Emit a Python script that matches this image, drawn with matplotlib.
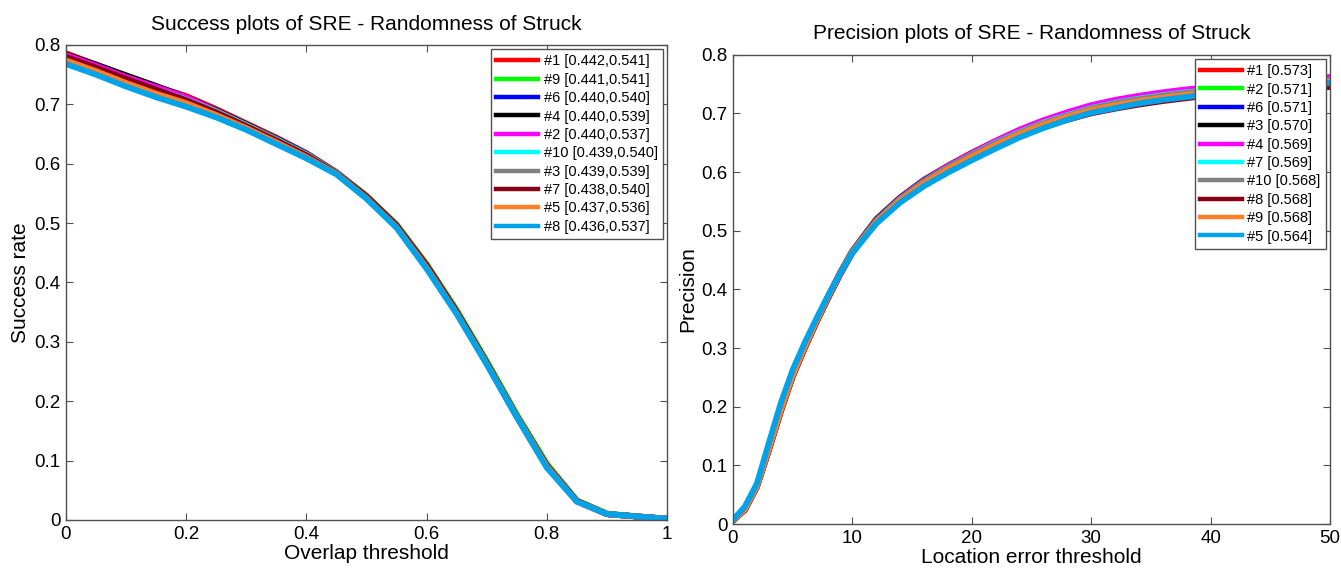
import numpy as np
import matplotlib
matplotlib.use('Agg')
import matplotlib.pyplot as plt

plt.rcParams['font.family'] = ['Liberation Sans', 'DejaVu Sans']

# success plot: overlap thresholds 0:0.05:1
overlap = [0.00, 0.05, 0.10, 0.15, 0.20, 0.25, 0.30, 0.35, 0.40, 0.45, 0.50,
           0.55, 0.60, 0.65, 0.70, 0.75, 0.80, 0.85, 0.90, 0.95, 1.00]
succ_labels = ['#1 [0.442,0.541]', '#9 [0.441,0.541]', '#6 [0.440,0.540]',
               '#4 [0.440,0.539]', '#2 [0.440,0.537]', '#10 [0.439,0.540]',
               '#3 [0.439,0.539]', '#7 [0.438,0.540]', '#5 [0.437,0.536]',
               '#8 [0.436,0.537]']
succ_1 = [.786, .767, .748, .730, .714, .692, .668, .644, .618, .586, .546, .497, .430, .352, .266, .176, .093, .032, .010, .006, .002]
succ_9 = [.782, .764, .745, .728, .711, .690, .666, .642, .616, .585, .546, .498, .431, .354, .268, .178, .095, .033, .011, .006, .002]
succ_6 = [.781, .764, .745, .727, .710, .689, .666, .642, .617, .585, .545, .496, .429, .351, .265, .175, .092, .032, .010, .006, .002]
succ_4 = [.784, .767, .749, .731, .712, .690, .666, .642, .616, .585, .545, .496, .429, .351, .265, .175, .092, .032, .010, .006, .002]
succ_2 = [.783, .765, .746, .729, .712, .689, .665, .641, .615, .584, .544, .495, .428, .350, .264, .174, .091, .031, .010, .006, .002]
succ_10 = [.779, .761, .742, .725, .708, .688, .665, .641, .616, .585, .545, .496, .429, .351, .265, .175, .092, .032, .010, .006, .002]
succ_3 = [.778, .760, .741, .724, .707, .687, .664, .640, .615, .584, .545, .496, .429, .351, .265, .175, .092, .032, .010, .006, .002]
succ_7 = [.780, .762, .743, .725, .707, .686, .663, .639, .614, .584, .545, .496, .429, .351, .265, .175, .092, .032, .010, .006, .002]
succ_5 = [.774, .756, .736, .718, .702, .682, .660, .636, .611, .583, .542, .493, .425, .348, .263, .174, .090, .031, .010, .006, .002]
succ_8 = [.768, .750, .730, .712, .696, .678, .657, .633, .609, .582, .541, .492, .423, .347, .262, .173, .088, .031, .010, .006, .002]
succ_series = [succ_1, succ_9, succ_6, succ_4, succ_2, succ_10, succ_3, succ_7, succ_5, succ_8]

# precision plot: location error thresholds
loc_err = [0, 1, 2, 3, 4, 5, 6, 7, 8, 9, 10, 12, 14, 16, 18, 20, 22, 24, 26, 28,
           30, 32, 34, 36, 38, 40, 42, 44, 46, 48, 50]
prec_labels = ['#1 [0.573]', '#2 [0.571]', '#6 [0.571]', '#3 [0.570]',
               '#4 [0.569]', '#7 [0.569]', '#10 [0.568]', '#8 [0.568]',
               '#9 [0.568]', '#5 [0.564]']
prec_1 = [.006, .025, .065, .128, .195, .255, .303, .348, .390, .430, .466, .520, .557, .587, .611, .633, .653, .672, .688, .701, .713, .722, .729, .734, .738, .742, .746, .750, .753, .756, .758]
prec_2 = [.006, .025, .064, .127, .194, .254, .302, .347, .389, .429, .465, .519, .556, .586, .610, .632, .652, .670, .686, .699, .711, .720, .727, .732, .737, .741, .745, .749, .752, .755, .757]
prec_6 = [.006, .025, .064, .127, .194, .254, .302, .347, .389, .429, .465, .519, .556, .586, .610, .632, .652, .670, .686, .699, .711, .720, .727, .733, .737, .741, .745, .749, .752, .755, .757]
prec_3 = [.006, .025, .064, .127, .193, .253, .301, .346, .388, .428, .464, .518, .555, .585, .609, .631, .651, .669, .685, .698, .710, .719, .726, .731, .736, .740, .744, .748, .751, .754, .756]
prec_4 = [.006, .024, .063, .126, .192, .252, .300, .345, .387, .427, .463, .517, .555, .585, .610, .632, .653, .672, .688, .702, .714, .723, .730, .736, .741, .745, .749, .753, .757, .760, .762]
prec_7 = [.006, .025, .064, .127, .193, .253, .301, .346, .388, .428, .464, .517, .554, .584, .608, .630, .650, .668, .684, .697, .709, .718, .725, .731, .736, .740, .744, .748, .751, .754, .756]
prec_10 = [.006, .025, .064, .127, .193, .253, .301, .346, .388, .428, .464, .517, .554, .584, .608, .630, .649, .667, .683, .696, .708, .717, .724, .730, .735, .739, .743, .747, .750, .753, .755]
prec_8 = [.006, .024, .063, .125, .191, .251, .299, .344, .386, .426, .462, .515, .551, .580, .603, .624, .643, .661, .676, .689, .700, .708, .715, .721, .726, .731, .735, .738, .741, .743, .745]
prec_9 = [.006, .025, .064, .127, .193, .253, .301, .346, .388, .428, .463, .515, .552, .581, .605, .626, .646, .665, .681, .694, .706, .714, .721, .727, .732, .736, .740, .744, .748, .751, .754]
prec_5 = [.007, .030, .069, .138, .206, .263, .309, .351, .391, .428, .462, .512, .548, .576, .599, .620, .640, .659, .675, .689, .701, .709, .717, .723, .728, .733, .737, .741, .745, .749, .752]
prec_series = [prec_1, prec_2, prec_6, prec_3, prec_4, prec_7, prec_10, prec_8, prec_9, prec_5]

# OTB draw style colours, in legend / draw order
colors = ['#ff0000', '#00ff00', '#0000ff', '#000000', '#ff00ff', '#00ffff',
          '#808080', '#880015', '#ff7f27', '#00a2e8']

fig = plt.figure(figsize=(13.41, 5.73), dpi=100)
fig.patch.set_facecolor('white')

ax1 = fig.add_axes([0.0492, 0.0925, 0.4482, 0.829])
ax2 = fig.add_axes([0.5466, 0.0855, 0.4452, 0.819])


def style_axes(ax):
    for sp in ax.spines.values():
        sp.set_color('#505050')
        sp.set_linewidth(1.0)
    ax.tick_params(direction='in', length=5, width=0.8, color='#505050',
                   top=True, right=True, labelsize=13.5, pad=4)


for ys, c, lab in zip(succ_series, colors, succ_labels):
    ax1.plot(overlap, ys, color=c, lw=4.2, label=lab, solid_joinstyle='miter')
ax1.set_xlim(0, 1)
ax1.set_ylim(0, 0.8)
ax1.set_xticks([0, 0.2, 0.4, 0.6, 0.8, 1])
ax1.set_xticklabels(['0', '0.2', '0.4', '0.6', '0.8', '1'])
ax1.set_yticks(np.arange(0, 0.81, 0.1))
ax1.set_yticklabels(['0', '0.1', '0.2', '0.3', '0.4', '0.5', '0.6', '0.7', '0.8'])
ax1.set_xlabel('Overlap threshold', fontsize=15, labelpad=1)
ax1.set_ylabel('Success rate', fontsize=15, labelpad=3)
ax1.set_title('Success plots of SRE - Randomness of Struck', fontsize=15, pad=11)
style_axes(ax1)

for ys, c, lab in zip(prec_series, colors, prec_labels):
    ax2.plot(loc_err, ys, color=c, lw=4.2, label=lab, solid_joinstyle='miter')
ax2.set_xlim(0, 50)
ax2.set_ylim(0, 0.8)
ax2.set_xticks([0, 10, 20, 30, 40, 50])
ax2.set_yticks(np.arange(0, 0.81, 0.1))
ax2.set_yticklabels(['0', '0.1', '0.2', '0.3', '0.4', '0.5', '0.6', '0.7', '0.8'])
ax2.set_xlabel('Location error threshold', fontsize=15, labelpad=1)
ax2.set_ylabel('Precision', fontsize=15, labelpad=3)
ax2.set_title('Precision plots of SRE - Randomness of Struck', fontsize=15, pad=11)
style_axes(ax2)

for ax in (ax1, ax2):
    leg = ax.legend(loc='upper right', fontsize=10.5, handlelength=2.9,
                    handletextpad=0.35, labelspacing=0.3, borderpad=0.35,
                    borderaxespad=0.3, fancybox=False, framealpha=1)
    leg.get_frame().set_edgecolor('#505050')
    leg.get_frame().set_linewidth(1.0)
    for ln in leg.get_lines():
        ln.set_linewidth(3.2)

fig.savefig('out.png', dpi=100)
